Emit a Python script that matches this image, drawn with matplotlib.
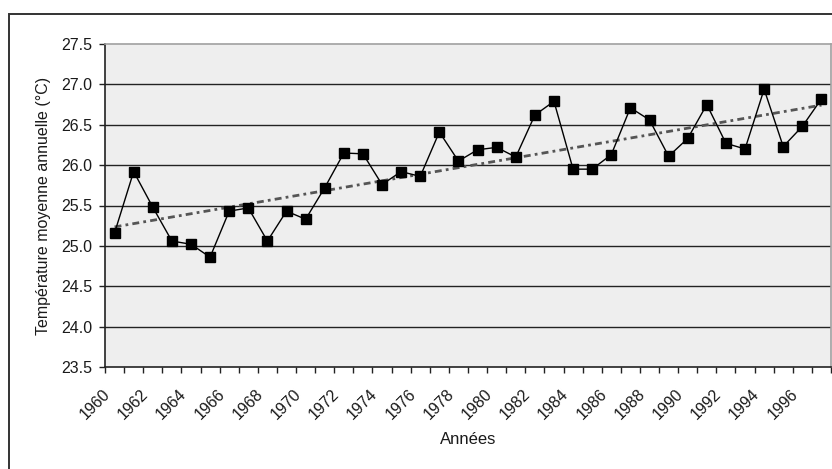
import numpy as np
import matplotlib
matplotlib.use("Agg")
import matplotlib.pyplot as plt
import matplotlib.transforms as mtransforms
from matplotlib.patches import Rectangle

plt.rcParams['font.family'] = ['Liberation Sans', 'DejaVu Sans']

years = list(range(1960, 1998))
temps = [25.16, 25.92, 25.48, 25.06, 25.02, 24.86, 25.43, 25.47, 25.06, 25.43,
         25.33, 25.72, 26.15, 26.14, 25.76, 25.92, 25.86, 26.41, 26.05, 26.19,
         26.22, 26.10, 26.62, 26.79, 25.95, 25.95, 26.13, 26.71, 26.56, 26.11,
         26.33, 26.75, 26.27, 26.20, 26.94, 26.23, 26.48, 26.82]
yticks = [23.5, 24.0, 24.5, 25.0, 25.5, 26.0, 26.5, 27.0, 27.5]

W, H = 832, 469
fig = plt.figure(figsize=(W / 100, H / 100), dpi=100)
ax = fig.add_axes([105 / W, (H - 367) / H, (831 - 105) / W, (367 - 44) / H])
ax.set_facecolor('#eeeeee')

x = np.arange(len(years))
ax.plot(x, temps, color='black', lw=1.0, marker='s', ms=6.5,
        markerfacecolor='black', markeredgecolor='black', zorder=4)

# linear trend line (as Excel)
k, b = np.polyfit(x, temps, 1)
ax.plot(x, k * x + b, color='#555555', lw=2.0, dashes=[2.5, 1.5, 1, 1.5], zorder=3)

ax.set_xlim(-0.5, len(years) - 0.5)
ax.set_ylim(23.5, 27.5)

# grid
ax.set_yticks(yticks)
ax.set_yticklabels([f"{v:.1f}" for v in yticks])
for v in yticks[1:-1]:
    ax.axhline(v, color='#222222', lw=1.0, zorder=1)

# category axis: ticks at boundaries, labels every 2 years at centers
ax.set_xticks(np.arange(-0.5, len(years)))
ax.set_xticklabels([])
lab_pos = x[::2]
ax.set_xticks(lab_pos, minor=True)
ax.set_xticklabels([str(years[i]) for i in lab_pos], minor=True,
                   rotation=45, ha='right', va='center', rotation_mode='anchor')
ax.tick_params(axis='x', which='major', direction='out', length=4, width=1, color='#222222')
ax.tick_params(axis='x', which='minor', length=0, pad=18, labelsize=11.5, labelcolor='#1a1a1a')
ax.tick_params(axis='y', direction='out', length=4, width=1, color='#222222',
               pad=5, labelsize=11.5, labelcolor='#1a1a1a')
off = mtransforms.ScaledTranslation(-7 / 100, 0, fig.dpi_scale_trans)
for lbl in ax.get_xticklabels(minor=True):
    lbl.set_transform(lbl.get_transform() + off)

for s in ['top', 'right']:
    ax.spines[s].set_color('#a0a0a0')
    ax.spines[s].set_linewidth(1.2)
for s in ['left', 'bottom']:
    ax.spines[s].set_color('#222222')
    ax.spines[s].set_linewidth(1.2)

ax.set_ylabel('Température moyenne annuelle (°C)', fontsize=11.5, color='#1a1a1a')
ax.yaxis.set_label_coords(-0.074, 0.5)
ax.set_xlabel('Années', fontsize=12, color='#1a1a1a')
ax.xaxis.set_label_coords(0.5, -0.20)

# outer chart frame
fig.patches.append(Rectangle((9 / W, -0.05), 1.0, 1 - 14 / H + 0.05,
                             transform=fig.transFigure, fill=False,
                             edgecolor='#333333', lw=1.4, zorder=0))

fig.savefig('out.png', dpi=100)
